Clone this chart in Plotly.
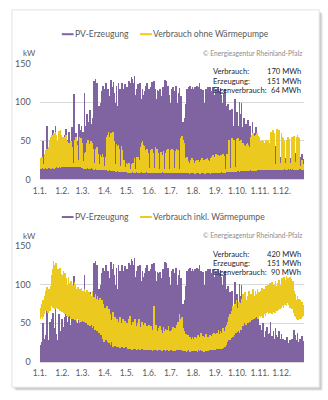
import plotly.graph_objects as go

W, H = 328, 400

# ---- data -------------------------------------------------------------
MONTH_STARTS = [0, 31, 59, 90, 120, 151, 181, 212, 243, 273, 304, 334]
MONTH_LABELS = ["1.1.", "1.2.", "1.3.", "1.4.", "1.5.", "1.6.", "1.7.",
                "1.8.", "1.9.", "1.10.", "1.11.", "1.12."]
Y_TICKS = [0, 50, 100, 150]

# daily peak of PV generation, kW
pv_peak = [
    22, 18, 26, 12, 50, 30, 24, 8, 35, 70, 42, 28, 15, 52, 38, 6, 55, 64, 30, 20, 44, 69, 36, 10, 28, 48, 62, 33, 12, 40, 55,
    38, 45, 20, 58, 66, 30, 14, 52, 40, 62, 25, 48, 35, 68, 55, 111, 42, 18, 60, 57, 30, 50, 72, 38, 25, 65, 70, 46,
    62, 55, 113, 48, 70, 85, 30, 66, 75, 58, 90, 40, 72, 68, 80, 128, 110, 130, 62, 125, 118, 45, 95, 88, 70, 100, 115, 60, 122, 80, 118,
    116, 125, 90, 118, 70, 108, 98, 60, 129, 120, 85, 127, 112, 75, 100, 122, 95, 68, 125, 110, 118, 80, 105, 126, 90, 72, 118, 124, 85, 115,
    120, 100, 128, 78, 118, 125, 133, 130, 95, 126, 134, 110, 70, 118, 122, 124, 88, 120, 125, 60, 105, 118, 98, 110, 75, 115, 122, 126, 100, 90, 118,
    112, 95, 120, 127, 125, 110, 128, 85, 118, 105, 70, 116, 115, 98, 117, 112, 80, 108, 120, 60, 118, 129, 126, 128, 100, 122, 90, 110, 75, 100,
    95, 118, 120, 85, 110, 115, 122, 118, 70, 100, 112, 119, 90, 108, 60, 52, 75, 48, 62, 80, 98, 105, 118, 115, 120, 112, 122, 118, 108, 120, 115,
    118, 110, 120, 115, 122, 118, 95, 120, 125, 112, 118, 85, 105, 116, 100, 75, 110, 118, 98, 112, 120, 117, 120, 108, 90, 115, 120, 113, 95, 110, 118,
    112, 118, 120, 105, 88, 115, 119, 110, 70, 100, 112, 108, 118, 95, 80, 60, 98, 85, 72, 90, 65, 78, 92, 55, 70, 85, 104, 60, 75, 88,
    70, 58, 101, 85, 62, 100, 45, 68, 80, 40, 55, 72, 38, 65, 78, 50, 42, 70, 35, 58, 75, 45, 60, 30, 52, 68, 40, 36, 55, 25, 48,
    38, 20, 42, 35, 50, 18, 33, 40, 28, 45, 15, 36, 30, 38, 52, 22, 34, 12, 40, 30, 26, 44, 35, 18, 32, 28, 40, 14, 30, 36,
    25, 30, 8, 22, 28, 15, 26, 32, 10, 24, 20, 28, 6, 22, 30, 18, 42, 25, 35, 12, 28, 38, 20, 26, 9, 30, 22, 34, 18, 27, 24,
]

# daily minimum / maximum load without heat pump, kW
load_min = [
    15, 14, 15, 16, 15, 14, 15, 16, 15, 14, 15, 16, 15, 15, 16, 14, 15, 16, 15, 14, 16, 15, 17, 16, 15, 16, 17, 16, 15, 17, 16,
    17, 16, 18, 17, 19, 18, 17, 16, 17, 18, 17, 16, 18, 17, 16, 17, 18, 17, 16, 18, 17, 16, 17, 18, 16, 17, 16, 15,
    15, 14, 16, 15, 14, 15, 16, 15, 14, 15, 14, 15, 16, 15, 14, 13, 14, 15, 14, 13, 14, 13, 14, 13, 12, 13, 14, 13, 12, 13, 12,
    12, 13, 12, 11, 12, 13, 12, 11, 12, 11, 12, 11, 12, 11, 10, 11, 12, 11, 10, 11, 10, 11, 10, 11, 10, 10, 11, 10, 10, 11,
    10, 9, 10, 10, 9, 10, 9, 10, 10, 9, 10, 9, 10, 10, 9, 10, 9, 10, 9, 10, 10, 9, 10, 9, 10, 9, 10, 10, 9, 10, 9,
    10, 9, 10, 9, 10, 9, 10, 9, 10, 10, 9, 10, 9, 10, 9, 10, 9, 10, 10, 9, 10, 9, 10, 9, 10, 9, 10, 9, 10, 9,
    9, 10, 9, 10, 9, 10, 9, 10, 9, 10, 9, 10, 9, 10, 9, 10, 9, 10, 9, 10, 9, 9, 10, 9, 9, 8, 9, 9, 10, 9, 9,
    9, 8, 8, 9, 9, 10, 9, 9, 8, 8, 9, 10, 9, 9, 10, 8, 8, 9, 10, 9, 9, 10, 9, 8, 9, 10, 9, 10, 9, 9, 9,
    10, 9, 10, 10, 9, 10, 9, 10, 10, 9, 10, 10, 9, 10, 10, 10, 11, 10, 10, 11, 10, 11, 10, 11, 10, 11, 11, 10, 11, 11,
    11, 11, 10, 11, 11, 12, 11, 11, 12, 11, 11, 12, 11, 12, 11, 12, 11, 12, 12, 11, 12, 12, 11, 12, 12, 11, 12, 12, 12, 12, 12,
    12, 13, 12, 12, 13, 12, 13, 12, 13, 12, 12, 13, 13, 12, 13, 13, 12, 13, 13, 12, 13, 13, 12, 13, 13, 12, 13, 13, 14, 13,
    13, 14, 13, 14, 14, 13, 14, 13, 14, 14, 13, 14, 14, 13, 14, 14, 13, 14, 14, 13, 14, 14, 13, 14, 15, 14, 14, 13, 14, 14, 13,
]
load_max = [
    22, 28, 30, 26, 18, 20, 34, 38, 36, 40, 24, 20, 42, 52, 55, 50, 58, 26, 22, 60, 56, 62, 58, 50, 28, 22, 63, 60, 65, 58, 55,
    26, 22, 55, 52, 58, 54, 50, 24, 20, 48, 45, 50, 46, 42, 22, 20, 48, 52, 55, 50, 45, 25, 20, 56, 52, 54, 50, 48,
    24, 20, 35, 32, 36, 48, 50, 52, 22, 20, 46, 50, 48, 44, 40, 22, 18, 40, 38, 42, 36, 34, 20, 18, 32, 30, 28, 34, 30, 18, 16,
    30, 28, 55, 58, 62, 56, 22, 20, 60, 58, 62, 55, 50, 20, 18, 46, 44, 42, 45, 40, 18, 16, 44, 38, 26, 24, 26, 16, 15, 22,
    20, 18, 22, 20, 14, 13, 21, 19, 22, 20, 28, 14, 13, 29, 27, 30, 26, 24, 15, 42, 48, 50, 45, 44, 16, 14, 38, 40, 36, 35, 15,
    14, 38, 36, 40, 37, 35, 15, 14, 42, 38, 40, 36, 35, 14, 13, 34, 36, 32, 30, 37, 14, 13, 33, 35, 38, 40, 37, 14, 13, 39,
    38, 40, 36, 38, 15, 14, 37, 40, 39, 38, 36, 14, 13, 54, 50, 57, 52, 48, 15, 14, 28, 26, 30, 24, 22, 12, 12, 25, 28, 24, 26,
    22, 12, 11, 24, 26, 22, 25, 23, 12, 11, 26, 28, 24, 22, 25, 12, 11, 27, 25, 28, 26, 24, 12, 11, 28, 30, 32, 27, 30, 12, 12,
    33, 30, 32, 29, 31, 14, 13, 32, 30, 33, 28, 31, 14, 13, 30, 33, 32, 29, 52, 15, 14, 50, 54, 48, 52, 50, 16, 15, 53, 51,
    54, 50, 17, 16, 52, 46, 44, 47, 45, 18, 16, 44, 46, 47, 45, 43, 18, 16, 56, 58, 55, 61, 57, 19, 17, 58, 60, 55, 57, 56, 20,
    18, 50, 48, 52, 50, 47, 20, 18, 52, 50, 49, 51, 48, 20, 18, 62, 60, 64, 58, 61, 21, 19, 63, 66, 60, 62, 64, 22, 20, 60,
    55, 52, 54, 50, 22, 20, 48, 52, 55, 50, 53, 22, 20, 55, 56, 54, 57, 52, 23, 21, 56, 58, 55, 54, 30, 18, 16, 26, 22, 20, 16,
]

# daily minimum / maximum load including heat pump, kW
load_hp_min = [
    56, 58, 60, 55, 58, 62, 66, 68, 70, 66, 68, 64, 70, 66, 68, 72, 74, 70, 76, 72, 68, 74, 70, 72, 68, 70, 72, 66, 70, 68, 65,
    66, 68, 64, 62, 65, 60, 63, 58, 62, 66, 60, 56, 62, 58, 55, 60, 57, 54, 58, 52, 56, 60, 54, 50, 55, 52, 58, 53,
    56, 52, 58, 54, 50, 55, 52, 48, 54, 50, 46, 52, 48, 44, 50, 46, 42, 48, 44, 40, 46, 42, 38, 44, 40, 35, 38, 30, 34, 26, 30,
    32, 28, 34, 26, 30, 24, 28, 22, 30, 26, 20, 28, 24, 21, 26, 22, 19, 24, 20, 22, 18, 24, 21, 19, 23, 20, 18, 22, 19, 21,
    19, 17, 20, 18, 17, 19, 18, 16, 19, 17, 18, 20, 17, 16, 18, 19, 17, 18, 16, 17, 19, 17, 18, 16, 17, 18, 16, 17, 18, 16, 17,
    16, 15, 17, 16, 14, 15, 17, 16, 15, 17, 16, 14, 15, 16, 17, 15, 16, 14, 15, 16, 17, 15, 14, 16, 15, 17, 16, 14, 15, 16,
    15, 16, 14, 15, 16, 14, 15, 16, 15, 17, 16, 15, 16, 17, 15, 16, 14, 15, 16, 14, 15, 13, 14, 15, 16, 14, 13, 15, 14, 16, 15,
    14, 15, 16, 14, 15, 13, 16, 15, 14, 16, 15, 14, 16, 15, 13, 15, 16, 14, 15, 16, 14, 15, 17, 16, 15, 16, 17, 16, 17, 16, 17,
    17, 18, 17, 19, 18, 17, 19, 18, 17, 19, 18, 20, 19, 22, 24, 26, 28, 30, 32, 29, 34, 31, 36, 33, 38, 35, 40, 37, 42, 39,
    40, 44, 38, 46, 42, 48, 52, 46, 54, 50, 56, 48, 52, 58, 50, 55, 60, 52, 57, 54, 58, 62, 55, 60, 57, 63, 58, 61, 56, 64, 60,
    58, 62, 60, 64, 57, 62, 66, 60, 63, 65, 68, 62, 66, 64, 70, 66, 62, 68, 65, 70, 64, 68, 72, 66, 70, 67, 72, 68, 74, 70,
    72, 76, 70, 78, 74, 80, 72, 76, 82, 74, 78, 70, 75, 72, 68, 70, 64, 60, 62, 58, 56, 60, 54, 58, 55, 60, 56, 62, 58, 60, 62,
]
load_hp_max = [
    62, 70, 75, 66, 80, 72, 85, 92, 88, 97, 90, 84, 95, 88, 92, 98, 112, 120, 131, 126, 118, 124, 128, 115, 120, 110, 118, 122, 108, 114, 105,
    112, 118, 106, 115, 104, 108, 100, 96, 110, 102, 94, 105, 98, 93, 100, 96, 104, 99, 90, 95, 88, 97, 92, 87, 94, 90, 96, 89,
    92, 88, 95, 90, 86, 93, 89, 84, 90, 82, 88, 78, 85, 92, 80, 84, 77, 88, 82, 79, 86, 80, 76, 83, 78, 72, 80, 68, 75, 62, 70,
    66, 58, 72, 60, 55, 68, 50, 62, 54, 48, 65, 52, 45, 58, 50, 42, 55, 48, 40, 52, 58, 45, 50, 42, 56, 47, 40, 53, 48, 44,
    50, 38, 55, 45, 59, 42, 48, 36, 52, 44, 40, 56, 46, 38, 50, 42, 55, 47, 36, 45, 52, 40, 48, 38, 44, 50, 36, 46, 42, 38, 48,
    44, 38, 46, 40, 36, 42, 72, 45, 38, 48, 40, 35, 44, 39, 46, 36, 42, 38, 34, 45, 40, 37, 43, 35, 41, 38, 46, 34, 40, 37,
    42, 38, 45, 36, 40, 44, 35, 41, 48, 52, 45, 62, 50, 55, 46, 58, 44, 40, 34, 30, 36, 32, 28, 35, 31, 27, 33, 30, 26, 32, 29,
    30, 27, 33, 25, 31, 28, 35, 26, 32, 29, 38, 27, 30, 34, 26, 32, 28, 36, 30, 27, 33, 29, 35, 31, 28, 34, 36, 30, 38, 33, 36,
    34, 38, 30, 42, 36, 32, 40, 35, 38, 44, 33, 40, 37, 45, 42, 48, 52, 58, 55, 62, 50, 66, 60, 72, 58, 68, 75, 64, 80, 70,
    66, 78, 72, 62, 76, 82, 70, 88, 75, 84, 90, 72, 80, 86, 76, 92, 82, 74, 88, 85, 78, 94, 86, 80, 92, 88, 84, 95, 82, 90, 87,
    92, 85, 96, 88, 82, 94, 90, 86, 98, 92, 100, 94, 88, 102, 96, 92, 104, 98, 90, 100, 95, 105, 98, 92, 102, 96, 106, 100, 94, 103,
    108, 100, 104, 110, 98, 106, 111, 102, 108, 96, 104, 110, 100, 107, 98, 105, 92, 84, 88, 80, 78, 85, 76, 82, 74, 80, 72, 78, 75, 70, 74,
]

stats_top = [("Verbrauch:", "170 MWh"), ("Erzeugung:", "151 MWh"), ("Eigenverbrauch:", "64 MWh")]
stats_bottom = [("Verbrauch:", "420 MWh"), ("Erzeugung:", "151 MWh"), ("Eigenverbrauch:", "90 MWh")]

# ---- style -------------------------------------------------------------
PURPLE = "#8064A2"
YELLOW = "#ECC91F"
GRID = "#D9D9D9"
LABEL = "#595959"
FONT = "Lato"


def px(x):
    return x / W


def py(y):
    return 1 - y / H


X_DOMAIN = [px(33.5), px(303.5)]
TOP_DOMAIN = [py(178.3), py(59.3)]
BOT_DOMAIN = [py(366.0), py(246.7)]

days_mid = [d + 0.5 for d in range(len(pv_peak))]


def span_bars(lo, hi, color, xa, ya, name):
    return go.Bar(
        x=days_mid[:len(hi)],
        y=[h - l for l, h in zip(lo, hi)],
        base=lo,
        width=1.0,
        marker=dict(color=color, line=dict(width=0)),
        xaxis=xa, yaxis=ya, name=name, showlegend=False, hoverinfo="skip",
    )


zeros = [0] * len(pv_peak)
fig = go.Figure()
fig.add_trace(span_bars(zeros, pv_peak, PURPLE, "x", "y", "PV-Erzeugung"))
fig.add_trace(span_bars(load_min, load_max, YELLOW, "x", "y", "Verbrauch ohne Wärmepumpe"))
fig.add_trace(span_bars(zeros, pv_peak, PURPLE, "x2", "y2", "PV-Erzeugung"))
fig.add_trace(span_bars(load_hp_min, load_hp_max, YELLOW, "x2", "y2", "Verbrauch inkl. Wärmepumpe"))

xaxis_style = dict(
    domain=X_DOMAIN, range=[0, 365], tickmode="array",
    tickvals=MONTH_STARTS, ticktext=MONTH_LABELS, tickangle=0,
    showgrid=False, zeroline=False, showline=True, linecolor=GRID, linewidth=1,
    ticks="", ticklabelstandoff=3,
    tickfont=dict(family=FONT, size=8.5, color=LABEL), fixedrange=True,
)
yaxis_style = dict(
    range=[0, 150], tickmode="array", tickvals=Y_TICKS,
    showgrid=True, gridcolor=GRID, gridwidth=1, zeroline=False, showline=False,
    ticks="", ticklabelstandoff=8,
    tickfont=dict(family=FONT, size=9, color=LABEL), fixedrange=True,
)

shapes = []
# card with soft drop shadow
for off, alpha in [(4, 0.05), (3, 0.07), (2, 0.09)]:
    shapes.append(dict(type="rect", xref="paper", yref="paper", layer="below",
                       x0=px(5 + off), x1=px(319 + off), y0=py(392 + off), y1=py(4 + off),
                       fillcolor=f"rgba(0,0,0,{alpha})", line=dict(width=0)))
shapes.append(dict(type="rect", xref="paper", yref="paper", layer="below",
                   x0=px(5), x1=px(319), y0=py(392), y1=py(4),
                   fillcolor="white", line=dict(color="#E3E3E3", width=1)))

annotations = []


def text(x, y, s, anchor, size, color):
    annotations.append(dict(xref="paper", yref="paper", x=px(x), y=py(y),
                            xanchor=anchor, yanchor="middle", showarrow=False,
                            text=s, borderpad=0, borderwidth=0,
                            font=dict(family=FONT, size=size, color=color)))


def legend_entry(x_line, y, label, color):
    shapes.append(dict(type="line", xref="paper", yref="paper",
                       x0=px(x_line), x1=px(x_line + 12), y0=py(y), y1=py(y),
                       line=dict(color=color, width=2)))
    text(x_line + 13, y, label, "left", 8.6, LABEL)


def panel_texts(y_legend, labels, y_kw, y_copy, y_stats, stats):
    legend_entry(56, y_legend, labels[0], PURPLE)
    legend_entry(136, y_legend, labels[1], YELLOW)
    text(22.5, y_kw, "kW", "center", 8, LABEL)
    text(301, y_copy, "© Energieagentur Rheinland-Pfalz", "right", 6.7, "#8C8C8C")
    for i, (lab, val) in enumerate(stats):
        text(210, y_stats[i], lab, "left", 7.6, "#262626")
        text(300, y_stats[i], val, "right", 7.6, "#262626")


panel_texts(29, ["PV-Erzeugung", "Verbrauch ohne Wärmepumpe"], 48.5, 48,
            [67.3, 77, 86.3], stats_top)
panel_texts(217, ["PV-Erzeugung", "Verbrauch inkl. Wärmepumpe"], 236, 235,
            [255, 264.3, 273.7], stats_bottom)

fig.update_layout(
    width=W, height=H,
    margin=dict(l=0, r=0, t=0, b=0),
    paper_bgcolor="white", plot_bgcolor="rgba(0,0,0,0)",
    barmode="overlay", bargap=0,
    showlegend=False,
    xaxis=dict(**xaxis_style, anchor="y"),
    yaxis=dict(**yaxis_style, domain=TOP_DOMAIN, anchor="x"),
    xaxis2=dict(**xaxis_style, anchor="y2"),
    yaxis2=dict(**yaxis_style, domain=BOT_DOMAIN, anchor="x2"),
    shapes=shapes,
    annotations=annotations,
    font=dict(family=FONT),
)

fig.write_html("out.html", config={"displayModeBar": False})
